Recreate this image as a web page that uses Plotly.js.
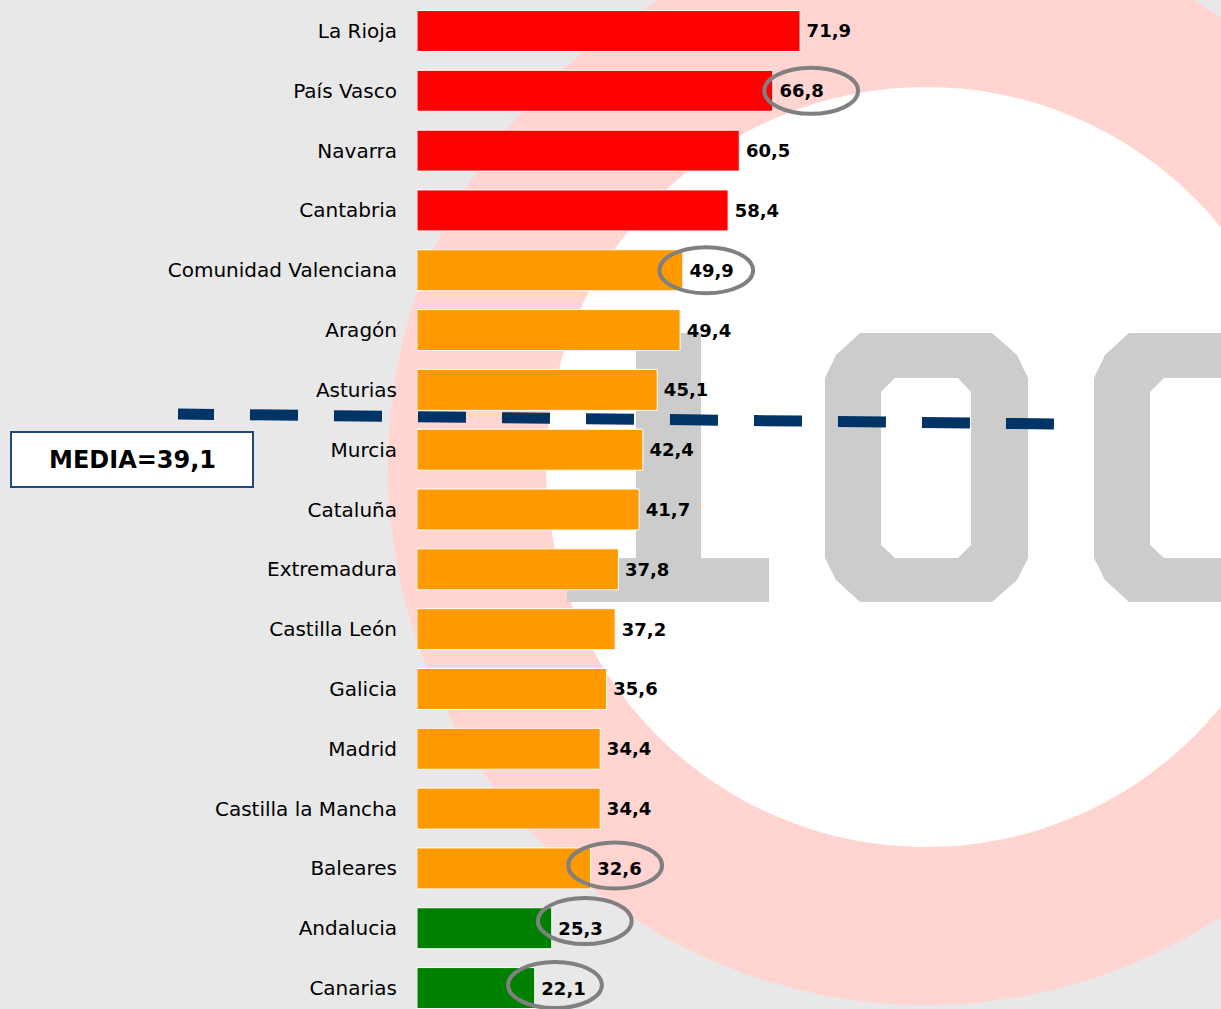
<!DOCTYPE html>
<html>
<head>
<meta charset="utf-8">
<script src="https://cdn.plot.ly/plotly-3.0.1.min.js"></script>
<style>
  html, body { margin: 0; padding: 0; background: #E8E8E8; }
  #chart { width: 1221px; height: 1009px; }
</style>
</head>
<body>
<div id="chart"></div>
<script>
// ---------- DATA ----------
const categories = [
  "La Rioja", "País Vasco", "Navarra", "Cantabria", "Comunidad Valenciana",
  "Aragón", "Asturias", "Murcia", "Cataluña", "Extremadura", "Castilla León",
  "Galicia", "Madrid", "Castilla la Mancha", "Baleares", "Andalucia", "Canarias"
];
const values = [71.9, 66.8, 60.5, 58.4, 49.9, 49.4, 45.1, 42.4, 41.7, 37.8, 37.2, 35.6, 34.4, 34.4, 32.6, 25.3, 22.1];
const groups = ["alto","alto","alto","alto","medio","medio","medio","medio","medio","medio","medio","medio","medio","medio","medio","bajo","bajo"];
const meanValue = 39.1;
const highlighted = ["País Vasco", "Comunidad Valenciana", "Baleares", "Andalucia", "Canarias"];

// ---------- STYLE ----------
const groupColors = { alto: "#FF0000", medio: "#FF9900", bajo: "#008000" };
const ellipseDx = [7.2, 4.4, 4.6, 6.2, 3.8];   // ellipse centre offset from bar end (x units)
const ellipseDy = [0, 0, -0.05, -0.12, -0.05];
const fmt = v => v.toFixed(1).replace(".", ",");

const W = 1221, H = 1009, ML = 417;
const PW = W - ML;
const px2x = x => (x - ML) / PW;
const py2y = y => 1 - y / H;

const trace = {
  type: "bar",
  orientation: "h",
  y: categories,
  x: values,
  text: values.map(v => "\u2009" + fmt(v)),
  textposition: "outside",
  cliponaxis: false,
  constraintext: "none",
  textfont: { family: "DejaVu Sans", size: 18, color: "#000000", weight: 700 },
  marker: { color: groups.map(g => groupColors[g]), line: { color: "#FFFFFF", width: 1 } },
  hoverinfo: "none"
};

const shapes = [];
// background logo (pink ring, white disc, grey letters)
const cx = 926, cy = 467, rOut = 538, rIn = 380;
shapes.push({ type: "circle", xref: "paper", yref: "paper", layer: "below",
  x0: px2x(cx - rOut), x1: px2x(cx + rOut), y0: py2y(cy + rOut), y1: py2y(cy - rOut),
  fillcolor: "#FFD4D1", line: { width: 0 } });
shapes.push({ type: "circle", xref: "paper", yref: "paper", layer: "below",
  x0: px2x(cx - rIn), x1: px2x(cx + rIn), y0: py2y(cy + rIn), y1: py2y(cy - rIn),
  fillcolor: "#FFFFFF", line: { width: 0 } });
function poly(pts, color) {
  const d = pts.map((p, i) => (i ? "L" : "M") + px2x(p[0]).toFixed(5) + "," + py2y(p[1]).toFixed(5)).join(" ") + " Z";
  shapes.push({ type: "path", xref: "paper", yref: "paper", layer: "below", path: d,
    fillcolor: color, line: { width: 0 } });
}
// L
poly([[636,333],[701,333],[701,558],[769,558],[769,602],[567,602],[567,558],[636,558]], "#CCCCCC");
// O letters
function letterO(sx) {
  poly([[860,333],[992,333],[1017,355],[1028,378],[1028,558],[1017,580],[992,602],[860,602],[836,580],[825,558],[825,378],[836,355]].map(p => [p[0]+sx, p[1]]), "#CCCCCC");
  poly([[895,378],[958,378],[971,392],[971,545],[958,558],[895,558],[881,545],[881,392]].map(p => [p[0]+sx, p[1]]), "#FFFFFF");
}
letterO(0);
letterO(269);

// mean dashed line
shapes.push({ type: "line", xref: "paper", yref: "paper", layer: "above",
  x0: px2x(178), y0: py2y(414), x1: px2x(1054), y1: py2y(424),
  line: { color: "#003366", width: 11, dash: "36px,36px" + ",48px,36px".repeat(10) } });
// mean box
shapes.push({ type: "rect", xref: "paper", yref: "paper", layer: "above",
  x0: px2x(11), x1: px2x(253), y0: py2y(487), y1: py2y(432),
  fillcolor: "#FFFFFF", line: { color: "#1F497D", width: 2 } });

// highlight ellipses
highlighted.forEach((name, k) => {
  const i = categories.indexOf(name);
  const xc = values[i] + ellipseDx[k];
  const yc = i + ellipseDy[k];
  shapes.push({ type: "circle", xref: "x", yref: "y", layer: "above",
    x0: xc - 8.8, x1: xc + 8.8, y0: yc - 0.385, y1: yc + 0.385,
    line: { color: "#808080", width: 4 }, fillcolor: "rgba(0,0,0,0)" });
});

const layout = {
  width: W, height: H,
  margin: { l: ML, r: 0, t: 0, b: 0, pad: 0 },
  paper_bgcolor: "#E8E8E8",
  plot_bgcolor: "rgba(0,0,0,0)",
  showlegend: false,
  bargap: 0.315,
  xaxis: { range: [0, PW / 5.327], showgrid: false, zeroline: false, showline: false,
           showticklabels: false, ticks: "", fixedrange: true },
  yaxis: { type: "category", categoryorder: "array", categoryarray: categories,
           range: [16.35, -0.518], showgrid: false, zeroline: false, showline: false,
           ticks: "", ticklabelstandoff: 19,
           tickfont: { family: "DejaVu Sans", size: 20, color: "#000000" }, fixedrange: true },
  shapes: shapes,
  annotations: [{
    xref: "paper", yref: "paper", x: px2x(132), y: py2y(460),
    xanchor: "center", yanchor: "middle", showarrow: false,
    text: "MEDIA=" + fmt(meanValue),
    font: { family: "DejaVu Sans", size: 24, color: "#000000", weight: 700 }
  }]
};

Plotly.newPlot("chart", [trace], layout, { staticPlot: true, displayModeBar: false });
</script>
</body>
</html>
